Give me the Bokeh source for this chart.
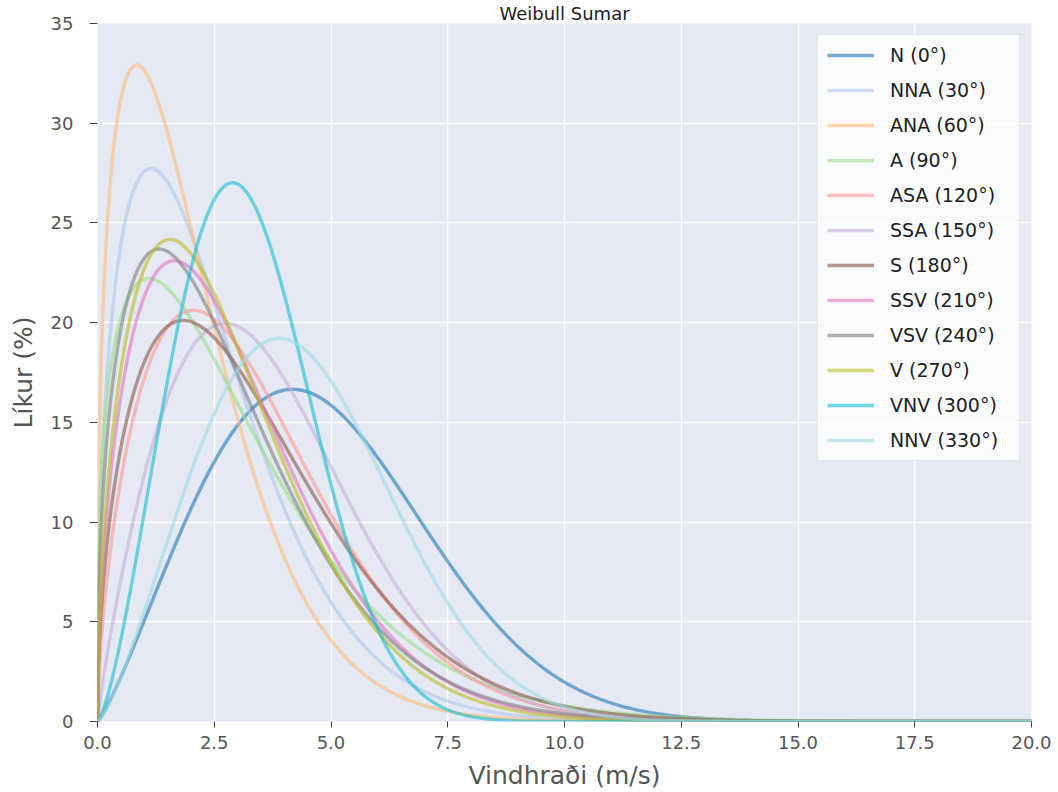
import numpy as np
from bokeh.plotting import figure
from bokeh.models import Legend, LegendItem, FixedTicker, Range1d
from bokeh.embed import file_html
from bokeh.resources import INLINE

# Wind directions (legend labels)
directions = ["N (0°)", "NNA (30°)", "ANA (60°)", "A (90°)", "ASA (120°)", "SSA (150°)",
              "S (180°)", "SSV (210°)", "VSV (240°)", "V (270°)", "VNV (300°)", "NNV (330°)"]
# Weibull shape (k) and scale (c, m/s) per direction
shape_k = [2.20, 1.43, 1.36, 1.31, 1.62, 1.87, 1.52, 1.54, 1.42, 1.53, 2.40, 2.32]
scale_c = [5.50, 2.66, 2.23, 3.31, 3.71, 4.12, 3.72, 3.25, 3.11, 3.10, 3.62, 4.96]
colors = ["#1f77b4", "#aec7e8", "#ffbb78", "#98df8a", "#ff9896", "#c5b0d5",
          "#8c564b", "#e377c2", "#7f7f7f", "#bcbd22", "#17becf", "#9edae5"]
x_ticks = [0, 2.5, 5, 7.5, 10, 12.5, 15, 17.5, 20]
y_ticks = [0, 5, 10, 15, 20, 25, 30, 35]

speed = np.linspace(0, 20, 1001)

p = figure(width=1058, height=792, output_backend="svg", toolbar_location=None,
           x_range=Range1d(0, 20), y_range=Range1d(0, 35),
           min_border_left=97, min_border_right=27, min_border_top=0, min_border_bottom=71,
           title="Weibull Sumar")
p.title.align = "center"
p.title.text_font = "DejaVu Sans"
p.title.text_font_size = "18px"
p.title.text_font_style = "normal"
p.title.text_color = "#222222"
p.title.standoff = 0
p.title.offset = 0

p.background_fill_color = "#E4E9F3"
p.border_fill_color = "white"
p.outline_line_color = None
p.grid.grid_line_color = "white"
p.grid.grid_line_width = 1.5

text_col = "#555555"
for ax in (p.xaxis[0], p.yaxis[0]):
    ax.axis_line_color = None
    ax.major_tick_line_color = "#444444"
    ax.major_tick_in = 0
    ax.minor_tick_line_color = None
    ax.major_label_text_color = text_col
    ax.major_label_text_font = "DejaVu Sans"
    ax.major_label_text_font_size = "18px"
    ax.axis_label_text_color = text_col
    ax.axis_label_text_font = "DejaVu Sans"
    ax.axis_label_text_font_size = "25px"
    ax.axis_label_text_font_style = "normal"

p.xaxis.ticker = FixedTicker(ticks=x_ticks)
p.yaxis.ticker = FixedTicker(ticks=y_ticks)
p.xaxis.major_label_overrides = {t: f"{t:.1f}" for t in x_ticks}
p.xaxis.axis_label = "Vindhraði (m/s)"
p.yaxis.axis_label = "Líkur (%)"
p.xaxis.major_tick_out = 6
p.yaxis.major_tick_out = 8
p.xaxis.major_label_standoff = 8
p.yaxis.major_label_standoff = 16
p.xaxis.axis_label_standoff = 9
p.yaxis.axis_label_standoff = 10

items = []
for name, k, c, col in zip(directions, shape_k, scale_c, colors):
    pdf = 100.0 * (k / c) * (speed / c) ** (k - 1) * np.exp(-(speed / c) ** k)
    r = p.line(speed, pdf, line_color=col, line_alpha=0.6, line_width=3.4)
    items.append(LegendItem(label=name, renderers=[r]))

legend = Legend(items=items, location="top_right")
legend.label_text_font = "DejaVu Sans"
legend.label_text_font_size = "19px"
legend.label_text_color = "#222222"
legend.glyph_width = 47
legend.glyph_height = 20
legend.label_height = 20
legend.label_width = 120
legend.label_standoff = 16
legend.spacing = 13
legend.padding = 9
legend.margin = 11
legend.background_fill_color = "white"
legend.background_fill_alpha = 0.8
legend.border_line_color = "#dddddd"
legend.border_line_alpha = 0.8
p.add_layout(legend)

open("out.html", "w").write(file_html(p, INLINE))
